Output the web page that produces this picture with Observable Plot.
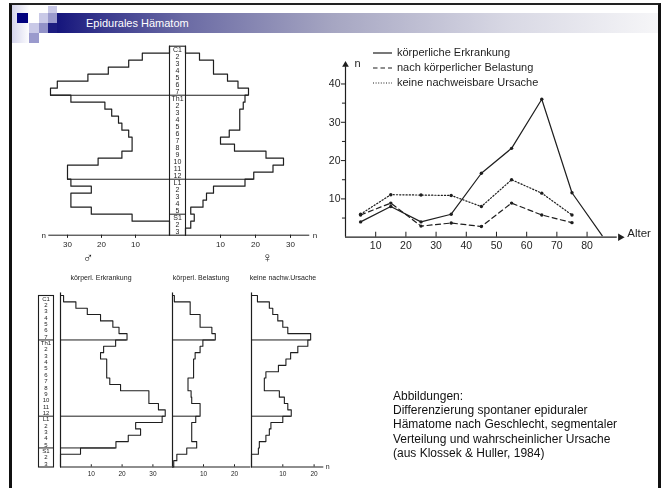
<!DOCTYPE html>
<html><head><meta charset="utf-8">
<script src="https://cdn.jsdelivr.net/npm/d3@7"></script>
<script src="https://cdn.jsdelivr.net/npm/@observablehq/plot@0.6"></script>
<style>
body{margin:0;background:#fff;}
#page{position:relative;width:666px;height:488px;overflow:hidden;font-family:"Liberation Sans",Arial,sans-serif;background:#fff;}
.gray{filter:grayscale(1);}
</style></head>
<body><div id="page"></div>
<script>
// ---------------- DATA ----------------
const segments = ["C1","2","3","4","5","6","7",
  "Th1","2","3","4","5","6","7","8","9","10","11","12",
  "L1","2","3","4","5","S1","2","3"];
const regionBreaks = [7, 19, 24];

// Pyramid (n per segment): male (left), female (right)
const pyramidMale   = [0,8,12,18,24,33,35, 29,19,17,15,14,12,11,11,14,21,30,30, 29,23,29,29,23, 11,0,0];
const pyramidFemale = [0,4,8,8,12,15,18, 17,16.5,15.5,15.5,15.5,12.5,10,14,23,28,25,19.5, 17,8,6,5,1.5, 2.5,1.5,0];
const pyramidTicks = [10,20,30];

// Bottom profiles by cause
const profileErkrankung = [1,5,8.7,13,17,19,21.6, 17.9,14,13,15,15,15,16,19.5,28.7,28.7,31.8,34, 33,24.4,26,22,18, 6.5,0,0];
const profileBelastung  = [0.6,5.7,5.7,8.9,8.9,12.7,13.8, 9.8,8.9,7.3,6.8,6.8,6.8,5,5,6,6.2,8.9,8.9, 7.5,6.2,6.2,6.2,7.8, 4.6,1.4,0.4];
const profileKeine      = [1.9,5.7,6.8,8.4,10,11.6,18.9, 18,14.8,12.5,11,8.6,4.6,4.1,4.1,8.9,10.5,11.6,12.7, 10,6.2,5.7,4.6,2.5, 2.2,0,0];
const profileTitles = ["körperl. Erkrankung","körperl. Belastung","keine nachw.Ursache"];

// Age distribution (line chart)
const agesSolid = [5,15,25,35,45,55,65,75,85];
const ages = [5,15,25,35,45,55,65,75];
const nErkrankung = [4,8,4,6,16.7,23.2,36,11.6,0.4];
const nBelastung  = [5.8,8.9,2.9,3.7,2.8,8.9,5.8,3.8];
const nKeine      = [6,11.1,11,10.9,8,15,11.5,5.8];
const seriesNames = ["körperliche Erkrankung","nach körperlicher Belastung","keine nachweisbare Ursache"];
const ageTicks = [10,20,30,40,50,60,70,80];
const nTicks = [10,20,30,40];
const nMinorTicks = [5,15,25,35];

const captionLines = ["Abbildungen:","Differenzierung spontaner epiduraler","Hämatome nach Geschlecht, segmentaler","Verteilung und wahrscheinlicher Ursache","(aus Klossek & Huller, 1984)"];
const slideTitle = "Epidurales Hämatom";

// ---------------- LAYOUT HELPERS ----------------
const page = document.getElementById("page");
function put(node, left, top, gray){ node.style.position="absolute"; node.style.left=left+"px"; node.style.top=top+"px"; if (gray) node.classList.add("gray"); page.appendChild(node); return node; }
function div(html, css){ const d=document.createElement("div"); d.innerHTML=html; d.style.cssText=css; return d; }
const INK = "#1e1e1e";
const svgStyle = {background:"transparent", overflow:"visible", fontFamily:"'Liberation Sans',Arial,sans-serif"};
const ROWS = segments.length;

function profile(values){
  const pts=[{v:0,r:0}];
  values.forEach((v,i)=>{pts.push({v,r:i},{v,r:i+1});});
  pts.push({v:0,r:values.length});
  return pts;
}
function separators(values, breaks){
  return breaks.map(b=>({r:b, w:Math.max(values[b-1], values[b])}));
}

// ---------------- FRAME & HEADER ----------------
put(div("", "width:646px;height:520px;border-left:3px solid #111;border-right:3px solid #111;border-top:2px solid #222;"), 9, 3);
put(div("", "width:18px;height:38px;background:linear-gradient(90deg,#d4d4ec,#ffffff);"), 12, 5);
put(div("", "width:601px;height:20px;background:linear-gradient(90deg,#15157c 0%,#3a3a8e 8%,#6a6aa4 21%,#a6a6c2 46%,#d8d8e4 75%,#f6f6f8 100%);"), 57, 13);
[[17,13,11,10,"#00007e"],[39,13,9,10,"#c9c9e7"],[48,13,9,10,"#9a9acd"],[48,6,9,7,"#c9c9e7"],
 [29,23,10,10,"#c9c9e7"],[39,23,9,10,"#9292c8"],[48,23,9,10,"#1c1c80"],[29,33,10,10,"#9a9acd"]].forEach(([x,y,w,h,c])=>{
  put(div("", `width:${w}px;height:${h}px;background:${c};`), x, y);
});
put(div(slideTitle, "color:#fff;font-size:11px;line-height:14px;white-space:nowrap;"), 86, 16);

// ---------------- PYRAMID ----------------
function halfPyramid(values, reverse, width, mL, mR, symbol, symbolX){
  return Plot.plot({
    width, height:230, marginLeft:mL, marginRight:mR, marginTop:5.7, marginBottom:35.3,
    x:{domain:[0,40], reverse, axis:null}, y:{domain:[0,ROWS], reverse:true, axis:null},
    style:svgStyle,
    marks:[
      Plot.line(profile(values), {x:"v", y:"r", stroke:INK, strokeWidth:1.2}),
      Plot.ruleY(separators(values, regionBreaks.slice(0,2)), {y:"r", x1:0, x2:"w", stroke:INK, strokeWidth:1.1}),
      Plot.ruleY([ROWS], {x1:0, x2:35.5, stroke:INK, strokeWidth:1}),
      Plot.ruleX(pyramidTicks, {y1:ROWS, y2:ROWS+0.45, stroke:INK}),
      Plot.text(pyramidTicks, {x:d=>d, y:ROWS, dy:9, fontSize:8, fill:INK}),
      Plot.text(["n"], {x:37, y:ROWS, fontSize:8, fill:INK}),
      Plot.text([symbol], {x:symbolX, y:ROWS, dy:22, fontSize:14, fontWeight:"bold", fill:INK})
    ]
  });
}
put(halfPyramid(pyramidMale, true, 139, 3, 0, "♂", 24), 30, 40, true);
put(halfPyramid(pyramidFemale, false, 145, 0, 5, "♀", 23.4), 185, 40, true);

function segmentColumn(width, height, mT, mB, fs, breaks){
  return Plot.plot({
    width, height, marginLeft:0, marginRight:0, marginTop:mT, marginBottom:mB,
    x:{domain:[0,1], axis:null}, y:{domain:[0,ROWS], reverse:true, axis:null},
    style:svgStyle,
    marks:[
      Plot.frame({stroke:INK, strokeWidth:1.1}),
      Plot.ruleY(breaks, {stroke:INK, strokeWidth:1}),
      Plot.text(segments, {x:0.5, y:(d,i)=>i+0.5, fontSize:fs, fill:INK})
    ]
  });
}
put(segmentColumn(16, 230, 5.7, 35.3, 7, regionBreaks), 169, 40, true);

// ---------------- LINE CHART ----------------
const lineRows = [];
[[agesSolid,nErkrankung],[ages,nBelastung],[ages,nKeine]].forEach(([a,v],k)=>{
  a.forEach((age,i)=>lineRows.push({age, n:v[i], s:seriesNames[k]}));
});
const dashes = {[seriesNames[0]]:null, [seriesNames[1]]:"5,3.5", [seriesNames[2]]:"1.2,2"};
const lineChart = Plot.plot({
  width:340, height:225, marginLeft:25, marginRight:37.2, marginTop:20.5, marginBottom:28.3,
  x:{domain:[0,92]}, y:{domain:[0,46]},
  style:svgStyle,
  marks:[
    Plot.ruleY([0], {x1:0, x2:90, stroke:INK, strokeWidth:1.2}),
    Plot.ruleX([0], {y1:0, y2:44.5, stroke:INK, strokeWidth:1.2}),
    Plot.dot([{x:91,y:0}], {x:"x", y:"y", symbol:"triangle2", r:3.6, rotate:90, fill:INK}),
    Plot.dot([{x:0,y:45}], {x:"x", y:"y", symbol:"triangle2", r:3.2, fill:INK}),
    Plot.ruleX(ageTicks, {y1:0, y2:1.3, stroke:INK}),
    Plot.ruleY(nMinorTicks, {x1:-1, x2:0, stroke:INK}),
    Plot.axisX({ticks:ageTicks, tickSize:0, tickPadding:4, fontSize:10.5, color:INK}),
    Plot.axisY({ticks:nTicks, tickSize:4, tickPadding:1, fontSize:10.5, color:INK}),
    ...seriesNames.map(s=>Plot.line(lineRows.filter(d=>d.s===s), {x:"age", y:"n", stroke:INK, strokeWidth:1.2, strokeDasharray:dashes[s]})),
    Plot.dot(lineRows.filter(d=>d.age<=75), {x:"age", y:"n", r:1.7, fill:INK}),
    Plot.text(["n"], {frameAnchor:"top-left", dx:9, dy:-2, fontSize:11, fill:INK}),
    Plot.text(["Alter"], {frameAnchor:"bottom-right", textAnchor:"start", dx:4, fontSize:11.5, fill:INK})
  ]
});
put(lineChart, 320, 40, true);

// legend
const legSvg = document.createElementNS("http://www.w3.org/2000/svg","svg");
legSvg.setAttribute("width","180"); legSvg.setAttribute("height","50");
seriesNames.forEach((s,i)=>{
  const y = 11 + i*15;
  const l = document.createElementNS("http://www.w3.org/2000/svg","line");
  l.setAttribute("x1","1"); l.setAttribute("x2","20"); l.setAttribute("y1",y); l.setAttribute("y2",y);
  l.setAttribute("stroke",INK); l.setAttribute("stroke-width","1.2");
  if (dashes[s]) l.setAttribute("stroke-dasharray", i===1 ? "4.5,3" : "1,1.6");
  legSvg.appendChild(l);
  const t = document.createElementNS("http://www.w3.org/2000/svg","text");
  t.setAttribute("x","25"); t.setAttribute("y",y+3); t.setAttribute("font-size","11");
  t.setAttribute("fill",INK); t.setAttribute("font-family","'Liberation Sans',Arial,sans-serif");
  t.textContent = s; legSvg.appendChild(t);
});
put(legSvg, 372, 42, true);

// ---------------- BOTTOM PROFILES ----------------
function stepChart(values, ppu, ext, ticks, breaks, withN){
  const mL = 5, width = Math.ceil(ppu*ext) + 12;
  return Plot.plot({
    width, height:195, marginLeft:mL, marginRight:width-mL-ppu*ext, marginTop:10, marginBottom:13.5,
    x:{domain:[0,ext], axis:null}, y:{domain:[0,ROWS], reverse:true, axis:null},
    style:svgStyle,
    marks:[
      Plot.ruleX([0], {y1:-0.4, y2:ROWS, stroke:INK, strokeWidth:1.2}),
      Plot.ruleY([ROWS], {x1:0, x2:ext, stroke:INK, strokeWidth:1.1}),
      Plot.line(profile(values), {x:"v", y:"r", stroke:INK, strokeWidth:1.1}),
      Plot.ruleY(separators(values, breaks), {y:"r", x1:0, x2:"w", stroke:INK, strokeWidth:1}),
      Plot.ruleX(ticks, {y1:ROWS-0.35, y2:ROWS, stroke:INK}),
      Plot.text(ticks, {x:d=>d, y:ROWS, dy:7, fontSize:6.5, fill:INK}),
      ...(withN ? [Plot.text(["n"], {x:ext, y:ROWS, dx:4, fontSize:7, fill:INK})] : [])
    ]
  });
}
put(stepChart(profileErkrankung, 3.08, 36.5, [10,20,30], regionBreaks, false), 55, 285, true);
put(stepChart(profileBelastung, 3.1, 25.3, [10,20], regionBreaks.slice(0,2), false), 167.3, 285, true);
put(stepChart(profileKeine, 3.13, 23.1, [10,20], regionBreaks.slice(0,2), true), 245.7, 285, true);
put(segmentColumn(15, 195, 10, 13.5, 6, regionBreaks), 38, 285, true);

[[101,profileTitles[0]],[201,profileTitles[1]],[283,profileTitles[2]]].forEach(([cx,t])=>{
  put(div(t, "width:90px;margin-left:-45px;text-align:center;font-size:7px;line-height:8px;color:#222;white-space:nowrap;"), cx, 274, true);
});

// ---------------- CAPTION ----------------
put(div(captionLines.join("<br>"), "font-size:12px;line-height:14.2px;color:#111;white-space:nowrap;"), 393, 389, true);
</script>
</body></html>
